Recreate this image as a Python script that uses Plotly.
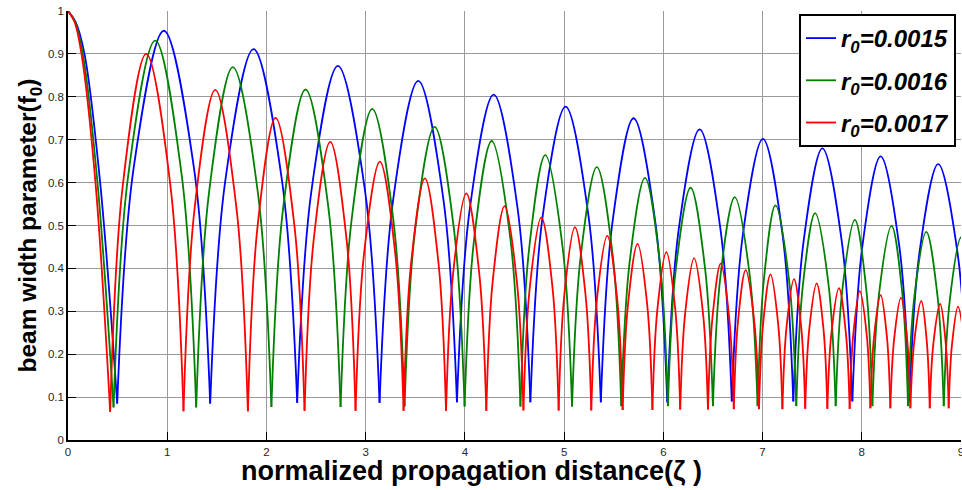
import plotly.graph_objects as go

# ---------------- data ----------------
series_names = ["r<sub>0</sub>=0.0015", "r<sub>0</sub>=0.0016", "r<sub>0</sub>=0.0017"]
series_colors = ["#0000ff", "#008000", "#ff0000"]
x_title = "normalized propagation distance(ζ )"
y_title = "beam width parameter(f<sub>0</sub>)"

# initial descent from zeta=0 (read points)
blue_start_x = [0.0, 0.075, 0.166, 0.324]
blue_start_y = [1.0, 0.975, 0.90, 0.60]
green_start_x = [0.0, 0.070, 0.149, 0.297]
green_start_y = [1.0, 0.975, 0.90, 0.60]
red_start_x = [0.0, 0.065, 0.136, 0.277]
red_start_y = [1.0, 0.975, 0.90, 0.60]

# ---- r0 = 0.0015 (blue) ----
blue_trough_x = [0.496, 1.433, 2.31, 3.14, 3.92, 4.66, 5.37, 6.04, 6.69, 7.31, 7.905, 8.48, 9.07]
blue_trough_y = [0.085, 0.085, 0.087, 0.087, 0.088, 0.088, 0.088, 0.088, 0.090, 0.090, 0.090, 0.090, 0.090]
blue_peak_x = [0.966, 1.87, 2.72, 3.53, 4.29, 5.015, 5.70, 6.366, 7.004, 7.603, 8.19, 8.77]
blue_peak_y = [0.954, 0.911, 0.872, 0.837, 0.805, 0.777, 0.750, 0.724, 0.702, 0.680, 0.661, 0.643]
blue_rise_x = [0.661, 1.586, 2.454, 3.277, 4.050, 4.784, 5.486, 6.154, 6.800, 7.413, 8.005, 8.582]
blue_fall_x = [1.270, 2.156, 2.993, 3.784, 4.531, 5.246, 5.921, 6.577, 7.203, 7.799, 8.379, 8.964]
blue_side_y = [0.633, 0.606, 0.582, 0.560, 0.540, 0.522, 0.505, 0.489, 0.476, 0.462, 0.450, 0.438]

# ---- r0 = 0.0016 (green) ----
green_trough_x = [0.459, 1.292, 2.05, 2.747, 3.392, 3.997, 4.56, 5.08, 5.576, 6.046, 6.50, 6.95,
                  7.34, 7.737, 8.107, 8.466, 8.826, 9.17]
green_trough_y = [0.076, 0.076, 0.077, 0.077, 0.078, 0.078, 0.078, 0.078, 0.079, 0.079, 0.079, 0.079,
                  0.079, 0.079, 0.079, 0.079, 0.079, 0.079]
green_peak_x = [0.879, 1.661, 2.394, 3.066, 3.695, 4.27, 4.81, 5.33, 5.815, 6.275, 6.72, 7.13,
                7.53, 7.93, 8.30, 8.65, 9.0]
green_peak_y = [0.931, 0.869, 0.817, 0.772, 0.730, 0.697, 0.664, 0.636, 0.611, 0.588, 0.566, 0.547,
                0.529, 0.513, 0.499, 0.485, 0.472]
green_rise_x = [0.606, 1.421, 2.170, 2.859, 3.498, 4.093, 4.648, 5.168, 5.660, 6.126, 6.577, 7.013,
                7.407, 7.805, 8.175, 8.530, 8.887]
green_fall_x = [1.147, 1.914, 2.623, 3.278, 3.891, 4.459, 4.986, 5.490, 5.965, 6.421, 6.870, 7.267,
                7.665, 8.045, 8.408, 8.764, 9.111]
green_side_y = [0.615, 0.576, 0.544, 0.515, 0.489, 0.468, 0.447, 0.430, 0.414, 0.399, 0.385, 0.373,
                0.362, 0.352, 0.343, 0.334, 0.326]

# ---- r0 = 0.0017 (red) ----
red_trough_x = [0.425, 1.164, 1.813, 2.384, 2.898, 3.382, 3.81, 4.216, 4.59, 4.945, 5.274, 5.59,
                5.89, 6.17, 6.45, 6.71, 6.964, 7.20, 7.43, 7.653, 7.878, 8.087, 8.288, 8.49,
                8.685, 8.876, 9.07]
red_trough_y = [0.066, 0.067, 0.067, 0.068, 0.068, 0.068, 0.068, 0.068, 0.069, 0.069, 0.069, 0.070,
                0.070, 0.071, 0.071, 0.072, 0.072, 0.072, 0.073, 0.073, 0.073, 0.074, 0.074, 0.074,
                0.074, 0.074, 0.074]
red_peak_x = [0.788, 1.484, 2.092, 2.643, 3.143, 3.597, 4.014, 4.40, 4.77, 5.109, 5.435, 5.74,
              6.03, 6.31, 6.578, 6.83, 7.08, 7.317, 7.545, 7.77, 7.98, 8.19, 8.395, 8.60,
              8.79, 8.97]
red_peak_y = [0.900, 0.816, 0.751, 0.695, 0.649, 0.610, 0.575, 0.545, 0.519, 0.496, 0.476, 0.457,
              0.438, 0.424, 0.411, 0.396, 0.386, 0.375, 0.365, 0.354, 0.347, 0.338, 0.332, 0.324,
              0.317, 0.311]
red_rise_x = [0.552, 1.276, 1.911, 2.475, 2.984, 3.457, 3.881, 4.280, 4.653, 5.002, 5.330, 5.643,
              5.939, 6.219, 6.495, 6.752, 7.005, 7.241, 7.470, 7.694, 7.914, 8.123, 8.326, 8.529,
              8.722, 8.909]
red_fall_x = [1.032, 1.698, 2.282, 2.809, 3.298, 3.735, 4.145, 4.524, 4.884, 5.216, 5.536, 5.838,
              6.121, 6.401, 6.664, 6.917, 7.158, 7.390, 7.615, 7.840, 8.050, 8.254, 8.457, 8.655,
              8.846, 9.035]
red_side_y = [0.593, 0.540, 0.499, 0.464, 0.435, 0.410, 0.388, 0.369, 0.353, 0.338, 0.326, 0.314,
              0.302, 0.293, 0.285, 0.275, 0.269, 0.262, 0.256, 0.249, 0.245, 0.239, 0.235, 0.230,
              0.226, 0.222]

x_tick_vals = [0, 1, 2, 3, 4, 5, 6, 7, 8, 9]
x_tick_text = ["0", "1", "2", "3", "4", "5", "6", "7", "8", "9"]
y_tick_vals = [0, 0.1, 0.2, 0.3, 0.4, 0.5, 0.6, 0.7, 0.8, 0.9, 1.0]
y_tick_text = ["0", "0.1", "0.2", "0.3", "0.4", "0.5", "0.6", "0.7", "0.8", "0.9", "1"]


def build(start_x, start_y, tx, ty, px, py, rx, fx, sy):
    """Arrange the read points into one arch per segment (gaps between arches)."""
    xs = list(start_x) + [tx[0], None]
    ys = list(start_y) + [ty[0], None]
    for i in range(len(px)):
        xs += [tx[i], rx[i], px[i], fx[i], tx[i + 1], None]
        ys += [ty[i], sy[i], py[i], sy[i], ty[i + 1], None]
    return xs, ys


series = [
    build(blue_start_x, blue_start_y, blue_trough_x, blue_trough_y, blue_peak_x, blue_peak_y,
          blue_rise_x, blue_fall_x, blue_side_y),
    build(green_start_x, green_start_y, green_trough_x, green_trough_y, green_peak_x, green_peak_y,
          green_rise_x, green_fall_x, green_side_y),
    build(red_start_x, red_start_y, red_trough_x, red_trough_y, red_peak_x, red_peak_y,
          red_rise_x, red_fall_x, red_side_y),
]

fig = go.Figure()
for k, ((xs, ys), name, color) in enumerate(zip(series, series_names, series_colors)):
    fig.add_trace(go.Scatter(
        x=xs, y=ys, mode="lines", name="<b><i>" + name + "</i></b>",
        legendgroup="g%d" % k,
        line=dict(color=color, width=1.8, shape="spline", smoothing=1.0),
        connectgaps=False,
    ))

grid_color = "#9a9a9a"
fig.update_layout(
    width=962, height=490,
    margin=dict(l=68, r=1, t=11, b=50),
    paper_bgcolor="white", plot_bgcolor="white",
    font=dict(family="Liberation Sans, Arial, sans-serif", color="#262626"),
    showlegend=True,
    legend=dict(
        x=0.9944, y=0.993, xanchor="right", yanchor="top",
        bgcolor="white", bordercolor="black", borderwidth=2,
        font=dict(size=24, color="black", family="Liberation Sans, Arial, sans-serif"),
        itemwidth=30, tracegroupgap=8,
    ),
    annotations=[dict(
        text="<b>" + x_title + "</b>", xref="paper", yref="paper",
        x=0.4513, y=-0.0723, xanchor="center", yanchor="middle", showarrow=False,
        font=dict(size=27, color="black", family="Liberation Sans, Arial, sans-serif"),
    )],
)
fig.update_xaxes(
    range=[0, 9], tickmode="array", tickvals=x_tick_vals, ticktext=x_tick_text,
    showgrid=True, gridcolor=grid_color, gridwidth=1, automargin=False,
    showline=True, linecolor="black", linewidth=1.5,
    ticks="inside", ticklen=8, tickcolor="black", tickwidth=1,
    ticklabeloverflow="allow",
    zeroline=False, tickfont=dict(size=11.5, color="#262626"),
)
fig.update_yaxes(
    range=[0, 1], tickmode="array", tickvals=y_tick_vals, ticktext=y_tick_text,
    showgrid=True, gridcolor=grid_color, gridwidth=1, automargin=False,
    showline=True, linecolor="black", linewidth=1.5,
    ticks="inside", ticklen=8, tickcolor="black", tickwidth=1,
    zeroline=False, tickfont=dict(size=11.5, color="#262626"),
    title=dict(text="<b>" + y_title + "</b>",
               font=dict(size=24.5, color="black"), standoff=4),
)

fig.write_html(
    "out.html",
    config={"displayModeBar": False},
    post_script="document.body.style.margin='0';document.body.style.overflow='hidden';",
)
